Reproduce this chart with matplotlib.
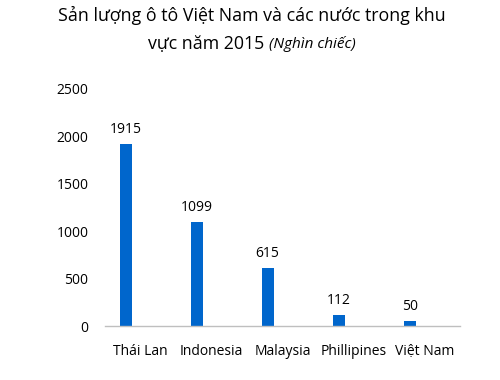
import matplotlib
matplotlib.use("Agg")
import matplotlib.pyplot as plt

categories = ["Thái Lan", "Indonesia", "Malaysia", "Phillipines", "Việt Nam"]
values = [1915, 1099, 615, 112, 50]
yticks = [0, 500, 1000, 1500, 2000, 2500]

plt.rcParams['font.family'] = ['Open Sans', 'Noto Sans', 'DejaVu Sans']

fig = plt.figure(figsize=(5, 3.8), dpi=100)
ax = fig.add_axes([0.21, 0.142, 0.71, 0.624])

x = list(range(len(categories)))
offset = -0.21
bars = ax.bar([i + offset for i in x], values, width=0.17, color='#0066CC')
for i, v in zip(x, values):
    ax.annotate(str(v), (i + offset, v), xytext=(0, 5), textcoords='offset points',
                ha='center', va='bottom', fontsize=10, color='#000000')

ax.set_xlim(-0.5, len(categories) - 0.5)
ax.set_ylim(0, 2500)
ax.set_yticks(yticks)
ax.set_yticklabels([str(t) for t in yticks], fontsize=10)
ax.set_xticks(x)
ax.set_xticklabels(categories, fontsize=10)
ax.tick_params(axis='both', length=0, colors='#000000')
ax.tick_params(axis='y', pad=12)
ax.tick_params(axis='x', pad=13)
for s in ['top', 'right', 'left']:
    ax.spines[s].set_visible(False)
ax.spines['bottom'].set_color('#BFBFBF')
ax.spines['bottom'].set_linewidth(1)

fig.text(0.504, 0.96, "Sản lượng ô tô Việt Nam và các nước trong khu", ha='center', va='center',
         fontsize=12.8, color='#000000')
# second line with italic part
t1 = fig.text(0.5, 0.885, "vực năm 2015 ", ha='left', va='center', fontsize=12.8, color='#000000')
t2 = fig.text(0.5, 0.885, "(Nghìn chiếc)", ha='left', va='center', fontsize=11, style='italic', color='#000000')
fig.canvas.draw()
r = fig.canvas.get_renderer()
w1 = t1.get_window_extent(r).width
w2 = t2.get_window_extent(r).width
W = fig.bbox.width
start = 252 - (w1 + w2) / 2
t1.set_x(start / W)
t2.set_x((start + w1) / W)

fig.savefig("out.png", dpi=100)
